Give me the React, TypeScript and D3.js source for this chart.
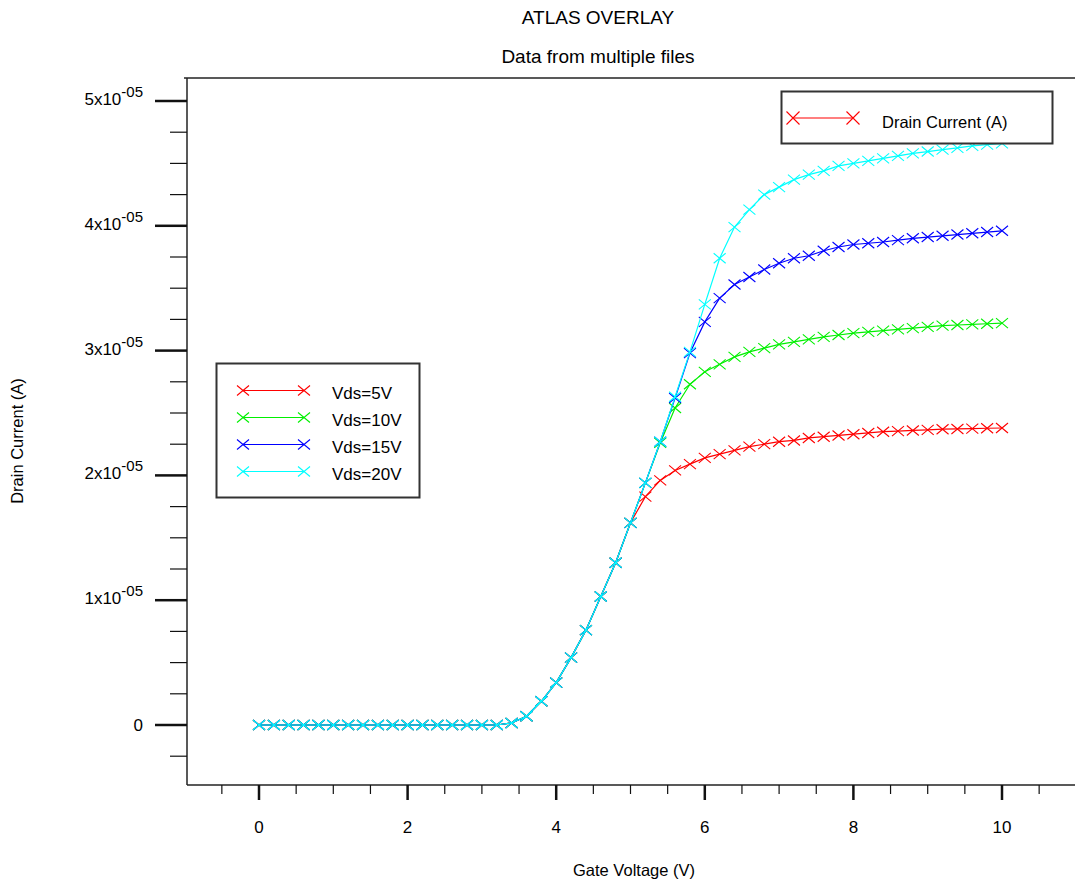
import React from "react";
import * as d3 from "d3";

// Gate voltage (V)
const VG = [
  0, 0.2, 0.4, 0.6, 0.8, 1.0, 1.2, 1.4, 1.6, 1.8, 2.0, 2.2, 2.4, 2.6, 2.8, 3.0, 3.2,
  3.4, 3.6, 3.8, 4.0, 4.2, 4.4, 4.6, 4.8, 5.0,
  5.2, 5.4, 5.6, 5.8, 6.0, 6.2, 6.4, 6.6, 6.8, 7.0, 7.2, 7.4, 7.6, 7.8, 8.0,
  8.2, 8.4, 8.6, 8.8, 9.0, 9.2, 9.4, 9.6, 9.8, 10.0,
];

// Drain current in units of 1e-5 A
const ID_5V = [
  0, 0, 0, 0, 0, 0, 0, 0, 0, 0, 0, 0, 0, 0, 0, 0, 0,
  0.016, 0.07, 0.19, 0.34, 0.54, 0.76, 1.03, 1.3, 1.62,
  1.83, 1.96, 2.04, 2.09, 2.14, 2.17, 2.2, 2.23, 2.25, 2.27, 2.28, 2.3, 2.31, 2.32, 2.33,
  2.34, 2.35, 2.355, 2.36, 2.365, 2.37, 2.372, 2.375, 2.378, 2.38,
];
const ID_10V = [
  0, 0, 0, 0, 0, 0, 0, 0, 0, 0, 0, 0, 0, 0, 0, 0, 0,
  0.016, 0.07, 0.19, 0.34, 0.54, 0.76, 1.03, 1.3, 1.62,
  1.94, 2.26, 2.54, 2.73, 2.83, 2.89, 2.95, 2.99, 3.02, 3.05, 3.07, 3.09, 3.11, 3.125, 3.14,
  3.15, 3.16, 3.17, 3.18, 3.19, 3.2, 3.205, 3.21, 3.215, 3.22,
];
const ID_15V = [
  0, 0, 0, 0, 0, 0, 0, 0, 0, 0, 0, 0, 0, 0, 0, 0, 0,
  0.016, 0.07, 0.19, 0.34, 0.54, 0.76, 1.03, 1.3, 1.62,
  1.94, 2.27, 2.62, 2.98, 3.23, 3.42, 3.53, 3.59, 3.65, 3.7, 3.74, 3.76, 3.8, 3.83, 3.85,
  3.86, 3.87, 3.885, 3.9, 3.91, 3.92, 3.93, 3.94, 3.95, 3.96,
];
const ID_20V = [
  0, 0, 0, 0, 0, 0, 0, 0, 0, 0, 0, 0, 0, 0, 0, 0, 0,
  0.016, 0.07, 0.19, 0.34, 0.54, 0.76, 1.03, 1.3, 1.62,
  1.94, 2.27, 2.63, 2.99, 3.37, 3.74, 3.99, 4.13, 4.25, 4.31, 4.37, 4.41, 4.44, 4.48, 4.5,
  4.52, 4.54, 4.56, 4.58, 4.595, 4.61, 4.625, 4.64, 4.65, 4.66,
];

const SERIES_NAMES = ["Vds=5V", "Vds=10V", "Vds=15V", "Vds=20V"];
const SERIES_VALUES = [ID_5V, ID_10V, ID_15V, ID_20V];
const SERIES_COLORS = ["#ff0000", "#00f000", "#0000ff", "#00ffff"];

const X_MAJOR = [0, 2, 4, 6, 8, 10];
const X_MINOR = [-0.5, 0.5, 1, 1.5, 2.5, 3, 3.5, 4.5, 5, 5.5, 6.5, 7, 7.5, 8.5, 9, 9.5, 10.5];
const Y_MAJOR = [0, 1, 2, 3, 4, 5];
const Y_MINOR = [-0.25, 0.25, 0.5, 0.75, 1.25, 1.5, 1.75, 2.25, 2.5, 2.75, 3.25, 3.5, 3.75, 4.25, 4.5, 4.75];

const TITLE = "ATLAS OVERLAY";
const SUBTITLE = "Data from multiple files";
const X_TITLE = "Gate Voltage (V)";
const Y_TITLE = "Drain Current (A)";
const TOP_LEGEND = "Drain Current (A)";

const W = 1075;
const H = 884;
const FONT = "'Liberation Sans', Arial, sans-serif";

const Cross = ({ x, y, color, s = 6, t = 5 }: { x: number; y: number; color: string; s?: number; t?: number }) => (
  <path d={`M${x - s},${y - t}L${x + s},${y + t}M${x - s},${y + t}L${x + s},${y - t}`} stroke={color} strokeWidth={1.1} fill="none" />
);

export default function App() {
  const x = d3.scaleLinear().domain([0, 10]).range([259, 1002]);
  const y = d3.scaleLinear().domain([0, 5]).range([725, 101]);
  const axL = 187;
  const axB = 785;
  const axT = 78;
  const line = d3
    .line<number>()
    .x((_, i) => x(VG[i]))
    .y((d) => y(d));

  return (
    <svg width={W} height={H} style={{ position: "absolute", left: 0, top: 0, background: "#fff" }} fontFamily={FONT}>
      <rect width={W} height={H} fill="#fff" />
      <text x={598} y={24} fontSize={19} textAnchor="middle">{TITLE}</text>
      <text x={598} y={63} fontSize={19} textAnchor="middle">{SUBTITLE}</text>

      {/* frame */}
      <line x1={184} x2={W} y1={axT} y2={axT} stroke="#222" strokeWidth={1.5} />
      <line x1={axL} x2={axL} y1={axT} y2={axB} stroke="#222" strokeWidth={1.5} />
      <line x1={axL} x2={W} y1={axB} y2={axB} stroke="#222" strokeWidth={1.5} />

      {/* x ticks */}
      {X_MAJOR.map((v) => (
        <g key={`xm${v}`}>
          <line x1={x(v)} x2={x(v)} y1={axB} y2={axB + 15} stroke="#111" strokeWidth={2.5} />
          <text x={x(v)} y={833} fontSize={17} textAnchor="middle">{v}</text>
        </g>
      ))}
      {X_MINOR.map((v) => (
        <line key={`xn${v}`} x1={x(v)} x2={x(v)} y1={axB} y2={axB + 9} stroke="#111" strokeWidth={1.2} />
      ))}

      {/* y ticks */}
      {Y_MAJOR.map((v) => (
        <g key={`ym${v}`}>
          <line x1={155} x2={axL} y1={y(v)} y2={y(v)} stroke="#111" strokeWidth={2.5} />
          {v === 0 ? (
            <text x={143} y={y(v) + 6} fontSize={17} textAnchor="end">0</text>
          ) : (
            <text x={143} y={y(v) + 4} fontSize={17} textAnchor="end">
              {`${v}x10`}
              <tspan dy={-8} fontSize={15}>-05</tspan>
            </text>
          )}
        </g>
      ))}
      {Y_MINOR.map((v) => (
        <line key={`yn${v}`} x1={170} x2={axL} y1={y(v)} y2={y(v)} stroke="#111" strokeWidth={1.2} />
      ))}

      {/* axis titles */}
      <text x={634} y={876} fontSize={16.5} textAnchor="middle">{X_TITLE}</text>
      <text transform={`translate(23,441) rotate(-90)`} fontSize={16.5} textAnchor="middle">{Y_TITLE}</text>

      {/* series */}
      {SERIES_VALUES.map((vals, si) => (
        <g key={SERIES_NAMES[si]}>
          <path d={line(vals) || ""} fill="none" stroke={SERIES_COLORS[si]} strokeWidth={1.2} />
          {vals.map((v, i) => (
            <Cross key={i} x={x(VG[i])} y={y(v)} color={SERIES_COLORS[si]} />
          ))}
        </g>
      ))}

      {/* top-right legend */}
      <rect x={781.5} y={91.5} width={271} height={52} fill="#fff" stroke="#333" strokeWidth={2} />
      <line x1={793} x2={853} y1={118} y2={118} stroke="#ff0000" strokeWidth={1.2} />
      <Cross x={793} y={118} color="#ff0000" s={6.5} t={6.5} />
      <Cross x={853} y={118} color="#ff0000" s={6.5} t={6.5} />
      <text x={882} y={128} fontSize={16.5}>{TOP_LEGEND}</text>

      {/* series legend */}
      <rect x={216.5} y={363.5} width={203} height={134} fill="#fff" stroke="#333" strokeWidth={2} />
      {SERIES_NAMES.map((n, i) => {
        const ly = 390.5 + i * 27;
        return (
          <g key={n}>
            <line x1={243} x2={304} y1={ly} y2={ly} stroke={SERIES_COLORS[i]} strokeWidth={1.2} />
            <Cross x={243} y={ly} color={SERIES_COLORS[i]} />
            <Cross x={304} y={ly} color={SERIES_COLORS[i]} />
            <text x={332} y={ly + 8} fontSize={17}>{n}</text>
          </g>
        );
      })}
    </svg>
  );
}
